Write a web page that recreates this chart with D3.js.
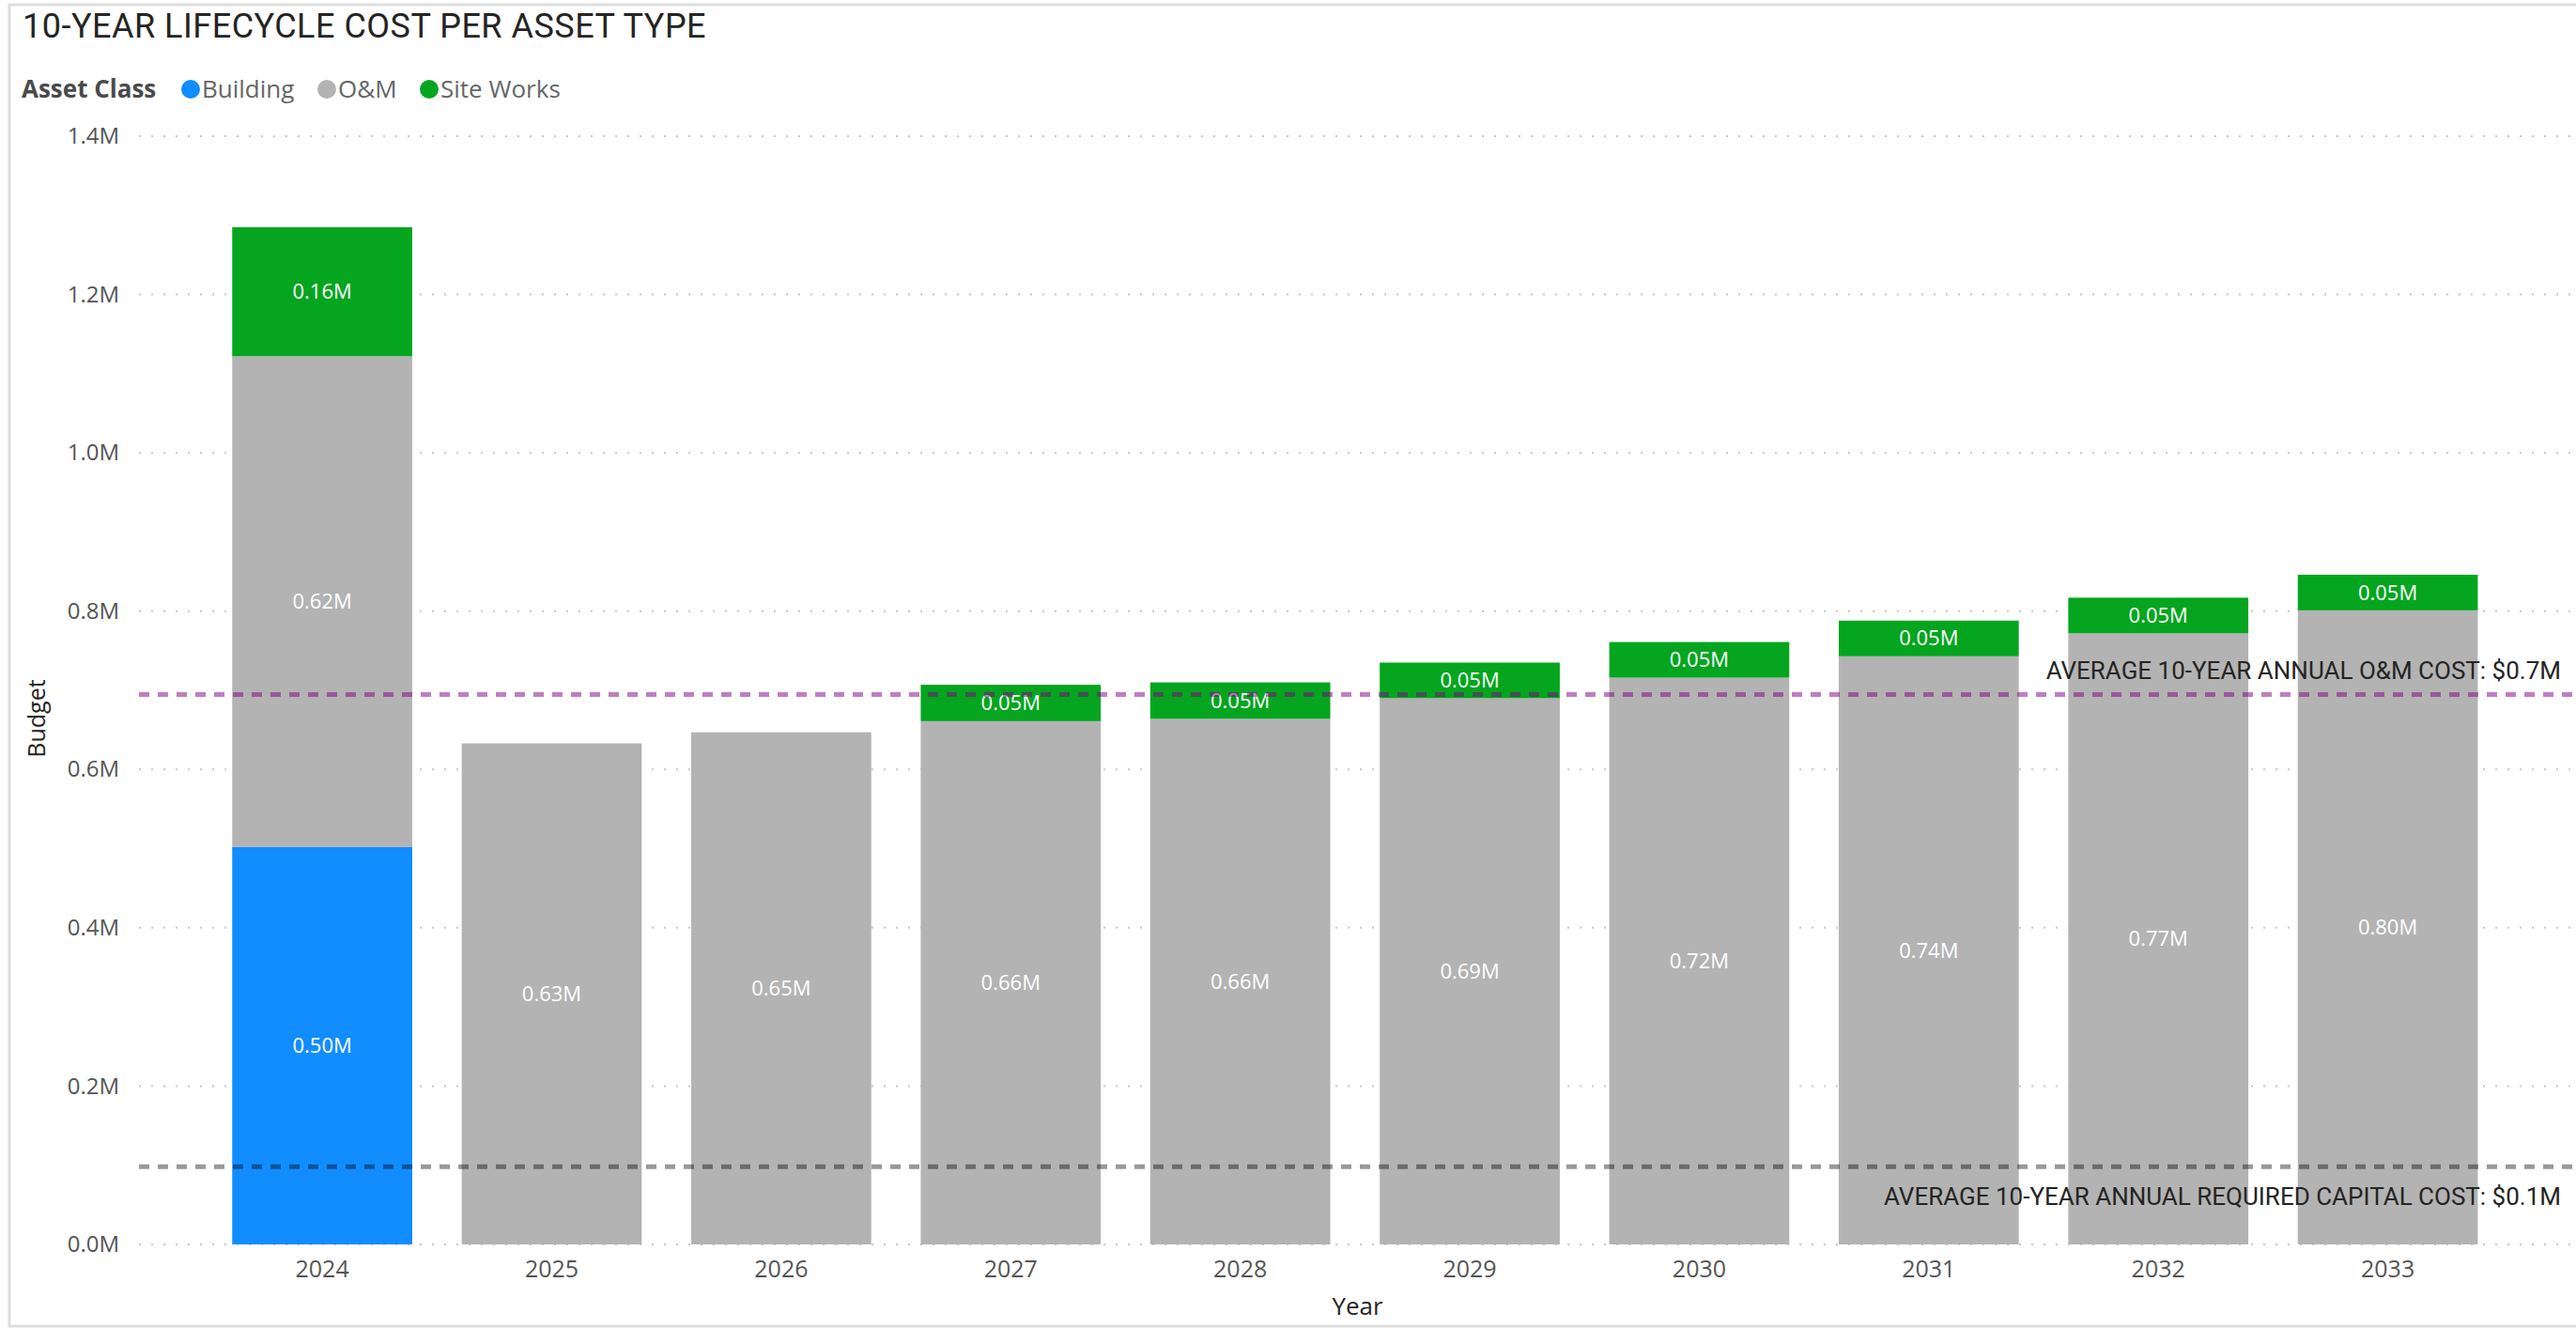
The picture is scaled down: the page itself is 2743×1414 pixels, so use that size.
<!DOCTYPE html>
<html>
<head>
<meta charset="utf-8">
<script src="https://cdn.jsdelivr.net/npm/d3@7"></script>
<style>
	html, body { margin: 0; padding: 0; background: #fff; }
	svg { display: block; }
	.tick text { font-family: "Open Sans", sans-serif; }
</style>
</head>
<body>
<svg id="chart" width="2743" height="1414"></svg>
<script>
// Data (values in millions)
const years = ["2024", "2025", "2026", "2027", "2028", "2029", "2030", "2031", "2032", "2033"];
const building = [0.502, 0, 0, 0, 0, 0, 0, 0, 0, 0];
const om = [0.620, 0.633, 0.647, 0.661, 0.664, 0.690, 0.716, 0.743, 0.772, 0.801];
const siteWorks = [0.163, 0, 0, 0.046, 0.046, 0.045, 0.045, 0.045, 0.045, 0.045];
const seriesNames = ["Building", "O&M", "Site Works"];
const yTicks = [0, 0.2, 0.4, 0.6, 0.8, 1.0, 1.2, 1.4];

const colors = { "Building": "#118DFF", "O&M": "#B3B3B3", "Site Works": "#05A520" };

// averages for the reference lines
const avgOM = d3.mean(om);
const avgCapital = d3.mean(years.map((d, i) => building[i] + siteWorks[i]));

const rows = years.map((y, i) => ({
	year: y,
	"Building": building[i],
	"O&M": om[i],
	"Site Works": siteWorks[i]
}));

const svg = d3.select("#chart");
const plotLeft = 148, plotRight = 2743, plotTop = 145, plotBottom = 1325;

const x = d3.scaleBand()
	.domain(years)
	.range([plotLeft, plotRight])
	.paddingInner(0.2156)
	.paddingOuter(0.417)
	.align(0.487);

const y = d3.scaleLinear().domain([0, 1.4]).range([plotBottom, plotTop]);

// frame
svg.append("rect")
	.attr("x", 10).attr("y", 5)
	.attr("width", 2800).attr("height", 1407)
	.attr("fill", "none")
	.attr("stroke", "#DEDEDE")
	.attr("stroke-width", 3);

// title
svg.append("text")
	.attr("x", 24).attr("y", 40)
	.style("font-family", "Roboto, sans-serif")
	.style("font-size", "36px")
	.style("letter-spacing", "0.5px")
	.attr("fill", "#252423")
	.text("10-YEAR LIFECYCLE COST PER ASSET TYPE");

// legend
const legend = svg.append("g").attr("transform", "translate(0,95)");
legend.append("text")
	.attr("x", 23).attr("dy", "0.35em")
	.style("font-family", "'Open Sans', sans-serif")
	.style("font-size", "26px")
	.style("font-weight", "bold")
	.attr("fill", "#4A4A4A")
	.text("Asset Class");
const legendX = [203, 348, 457];
seriesNames.forEach((s, i) => {
	legend.append("circle")
		.attr("cx", legendX[i]).attr("cy", 0).attr("r", 10)
		.attr("fill", colors[s]);
	legend.append("text")
		.attr("x", legendX[i] + 12).attr("dy", "0.35em")
		.style("font-family", "'Open Sans', sans-serif")
		.style("font-size", "26px")
		.attr("fill", "#666666")
		.text(s);
});

// gridlines
svg.append("g")
	.selectAll("line")
	.data(yTicks)
	.enter()
	.append("line")
	.attr("x1", plotLeft).attr("x2", plotRight)
	.attr("y1", (d) => y(d)).attr("y2", (d) => y(d))
	.attr("stroke", "#C8C8C8")
	.attr("stroke-width", 2)
	.attr("stroke-dasharray", "2,11");

// y axis
const yAxis = svg.append("g")
	.attr("transform", `translate(${plotLeft},0)`)
	.call(d3.axisLeft(y).tickValues(yTicks).tickSize(0).tickPadding(21).tickFormat((d) => d.toFixed(1) + "M"));
yAxis.select(".domain").remove();
yAxis.selectAll("text").style("font-size", "24px").attr("fill", "#555555");

// x axis
const xAxis = svg.append("g")
	.attr("transform", `translate(0,${plotBottom})`)
	.call(d3.axisBottom(x).tickSize(0).tickPadding(17));
xAxis.select(".domain").remove();
xAxis.selectAll("text").style("font-size", "25px").attr("fill", "#555555");

// axis titles
svg.append("text")
	.attr("transform", "translate(48,765) rotate(-90)")
	.attr("text-anchor", "middle")
	.style("font-family", "'Open Sans', sans-serif")
	.style("font-size", "25px")
	.attr("fill", "#252423")
	.text("Budget");
svg.append("text")
	.attr("x", (plotLeft + plotRight) / 2).attr("y", 1400)
	.attr("text-anchor", "middle")
	.style("font-family", "'Open Sans', sans-serif")
	.style("font-size", "26px")
	.attr("fill", "#252423")
	.text("Year");

// stacked bars
const stacked = d3.stack().keys(seriesNames)(rows);
const layers = svg.append("g")
	.selectAll("g")
	.data(stacked)
	.enter()
	.append("g")
	.attr("fill", (d) => colors[d.key]);

layers.selectAll("rect")
	.data((d) => d.filter((p) => p[1] - p[0] > 0))
	.enter()
	.append("rect")
	.attr("x", (d) => x(d.data.year))
	.attr("y", (d) => y(d[1]))
	.attr("width", x.bandwidth())
	.attr("height", (d) => y(d[0]) - y(d[1]));

layers.selectAll("text")
	.data((d) => d.filter((p) => p[1] - p[0] > 0))
	.enter()
	.append("text")
	.attr("x", (d) => x(d.data.year) + x.bandwidth() / 2)
	.attr("y", (d) => (y(d[0]) + y(d[1])) / 2)
	.attr("dy", "0.35em")
	.attr("text-anchor", "middle")
	.style("font-family", "'Open Sans', sans-serif")
	.style("font-size", "22px")
	.attr("fill", "#FFFFFF")
	.text((d) => (d[1] - d[0]).toFixed(2) + "M");

// reference lines
const refs = [
	{ value: avgOM, color: "rgba(128,0,128,0.5)", label: "AVERAGE 10-YEAR ANNUAL O&M COST: $" + avgOM.toFixed(1) + "M", dy: -16 },
	{ value: avgCapital, color: "rgba(0,0,0,0.4)", label: "AVERAGE 10-YEAR ANNUAL REQUIRED CAPITAL COST: $" + avgCapital.toFixed(1) + "M", dy: 41 }
];
const refG = svg.append("g");
refG.selectAll("line")
	.data(refs)
	.enter()
	.append("line")
	.attr("x1", plotLeft).attr("x2", plotRight)
	.attr("y1", (d) => y(d.value)).attr("y2", (d) => y(d.value))
	.attr("stroke", (d) => d.color)
	.attr("stroke-width", 5)
	.attr("stroke-dasharray", "11,9");
refG.selectAll("text")
	.data(refs)
	.enter()
	.append("text")
	.attr("x", 2727)
	.attr("y", (d) => y(d.value) + d.dy)
	.attr("text-anchor", "end")
	.style("font-family", "Roboto, sans-serif")
	.style("font-size", "26px")
	.attr("fill", "#252423")
	.text((d) => d.label);
</script>
</body>
</html>
